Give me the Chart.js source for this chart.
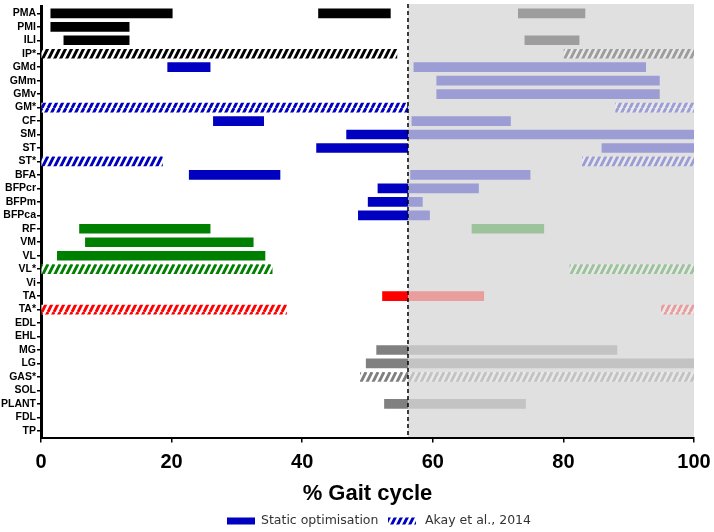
<!DOCTYPE html>
<html><head><meta charset="utf-8">
<script src="https://cdn.jsdelivr.net/npm/chart.js@4"></script>
<style>html,body{margin:0;padding:0;background:#fff;}</style>
</head><body>
<canvas id="c" width="714" height="532"></canvas>
<script>
const categories = ['PMA','PMI','ILI','IP*','GMd','GMm','GMv','GM*','CF','SM','ST','ST*','BFA','BFPcr','BFPm','BFPca','RF','VM','VL','VL*','Vi','TA','TA*','EDL','EHL','MG','LG','GAS*','SOL','PLANT','FDL','TP'];
const groups = ['k','k','k','k','b','b','b','b','b','b','b','b','b','b','b','b','g','g','g','g','g','r','r','n','n','n','n','n','n','n','n','n'];
const segA = [[1.5,20.1],[1.5,13.5],[3.5,13.5],[0,54.5],[19.4,25.9],[60.6,94.7],[60.6,94.7],[0,56.2],[26.4,34.1],[46.8,100],[42.2,56.2],[0,18.6],[22.7,36.6],[51.6,67.0],[50.1,58.4],[48.6,59.5],[5.9,25.9],[6.8,32.5],[2.5,34.3],[0,35.4],null,[52.3,67.8],[0,37.6],null,null,[51.4,88.2],[49.8,100],[48.9,100],null,[52.6,74.2],null,null];
const segB = [[42.5,53.5],null,[74.1,82.4],[80.1,100],[57.1,92.6],null,null,[88.0,100],[56.8,71.9],null,[85.9,100],[82.9,100],[56.6,74.9],null,null,null,[66.0,77.0],null,null,[81.0,100],null,null,[95.0,100],null,null,null,null,null,null,null,null,null];
const segC = [[73.1,83.3],null,null,null,null,null,null,null,null,null,null,null,null,null,null,null,null,null,null,null,null,null,null,null,null,null,null,null,null,null,null,null];
const xTicks = [0,20,40,60,80,100];
const toeOff = 56.2;
const legendLabels = ['Static optimisation','Akay et al., 2014'];

const palette = {k:'#000000', b:'#0000C0', g:'#008000', r:'#FF0000', n:'#808080'};
function makePattern(color){
  const c = document.createElement('canvas'); c.width = 6; c.height = 12;
  const g = c.getContext('2d');
  g.fillStyle = '#fff'; g.fillRect(0,0,6,12);
  g.strokeStyle = color; g.lineWidth = 2.9; g.beginPath();
  for (const x0 of [-6,0,6]) { g.moveTo(x0,12); g.lineTo(x0+6,0); }
  g.stroke();
  return g.createPattern(c,'repeat');
}
const patterns = {};
for (const k in palette) patterns[k] = makePattern(palette[k]);
function fillFor(i){ return categories[i].endsWith('*') ? patterns[groups[i]] : palette[groups[i]]; }

const ds = (data) => ({data, grouped:false, barThickness:9, borderWidth:0, borderSkipped:false,
  backgroundColor: ctx => fillFor(ctx.dataIndex)});

const phasePlugin = {
  id:'phase',
  beforeDraw(chart){
    const {ctx, chartArea:a, scales:{x}} = chart;
    const x0 = x.getPixelForValue(toeOff), x1 = x.getPixelForValue(100);
    ctx.save(); ctx.fillStyle = '#DFDFDF';
    ctx.fillRect(x0, a.top-2.6, x1-x0, a.bottom-a.top+2.6); ctx.restore();
  },
  afterDatasetsDraw(chart){
    const {ctx, chartArea:a, scales:{x}} = chart;
    const x0 = x.getPixelForValue(toeOff), x1 = x.getPixelForValue(100);
    ctx.save(); ctx.fillStyle = 'rgba(223,223,223,0.7)';
    ctx.fillRect(x0, a.top-2.6, x1-x0, a.bottom-a.top+1.6);
    ctx.strokeStyle = '#000'; ctx.lineWidth = 1.5; ctx.setLineDash([4,3]);
    ctx.beginPath(); ctx.moveTo(x0, a.top-2.6); ctx.lineTo(x0, a.bottom); ctx.stroke();
    ctx.restore();
  },
  afterDraw(chart){
    const ctx = chart.ctx;
    ctx.save();
    const yc = 521;
    ctx.fillStyle = palette.b; ctx.fillRect(227, yc-3.5, 28, 7);
    ctx.fillStyle = patterns.b; ctx.fillRect(388, yc-3.5, 28, 7);
    ctx.fillStyle = '#333'; ctx.font = '12.5px "DejaVu Sans"'; ctx.textBaseline = 'middle';
    ctx.fillText(legendLabels[0], 261, yc);
    ctx.fillText(legendLabels[1], 425, yc);
    ctx.restore();
  }
};

new Chart(document.getElementById('c'), {
  type:'bar',
  data:{labels:categories, datasets:[ds(segA), ds(segB), ds(segC)]},
  options:{
    indexAxis:'y', responsive:false, animation:false,
    layout:{padding:{top:6.6, right:20, bottom:24.5, left:0}},
    plugins:{legend:{display:false}, tooltip:{enabled:false}},
    scales:{
      y:{type:'category', offset:true,
        grid:{display:true, offset:false, drawOnChartArea:false, drawTicks:true, tickLength:4, color:'#000', lineWidth:1.5},
        border:{display:true, color:'#000', width:3},
        ticks:{autoSkip:false, padding:1, color:'#000', font:{family:'"Liberation Sans", Arial, sans-serif', weight:'bold', size:10.5}},
        afterFit: s => { s.width = 41; s.paddingTop = 0; s.paddingBottom = 0; }
      },
      x:{type:'linear', min:0, max:100,
        afterBuildTicks: s => { s.ticks = xTicks.map(v => ({value:v})); },
        grid:{display:true, drawOnChartArea:false, drawTicks:true, tickLength:5, color:'#000', lineWidth:1.5},
        border:{display:true, color:'#000', width:2},
        ticks:{padding:8, color:'#000', font:{family:'"Liberation Sans", sans-serif', weight:'bold', size:20}},
        title:{display:true, text:'% Gait cycle', color:'#000', padding:{top:4, bottom:0}, font:{family:'"Liberation Sans", sans-serif', weight:'bold', size:22}},
        afterFit: s => { s.height = 70; s.paddingLeft = 0; s.paddingRight = 0; }
      }
    }
  },
  plugins:[phasePlugin]
});
</script>
</body></html>
